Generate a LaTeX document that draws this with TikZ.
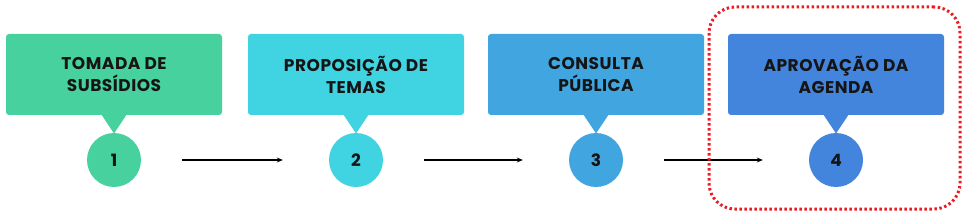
\documentclass[tikz,border=0pt]{standalone}
\usepackage{fontspec}
\setmainfont{Poppins}[LetterSpace=3]
\usetikzlibrary{arrows.meta}
\definecolor{cA}{HTML}{46D19F}
\definecolor{cB}{HTML}{40D3E2}
\definecolor{cC}{HTML}{41A6E0}
\definecolor{cD}{HTML}{4385DD}
\definecolor{txt}{HTML}{151515}
\definecolor{redd}{HTML}{EC1C24}
\tikzset{
  stepbox/.style={rectangle, rounded corners=3pt, minimum width=216pt, minimum height=81pt, inner sep=0pt, align=center, text=txt, font=\fontsize{17}{22}\selectfont\bfseries},
  stepnum/.style={circle, minimum size=54pt, inner sep=0pt, text=txt, font=\fontsize{17}{20}\selectfont\bfseries},
  arr/.style={line width=1.2pt, -{Stealth[length=6pt,width=5pt]}, shorten <=41pt, shorten >=46pt},
  hl/.style={draw=redd, line width=3pt, dash pattern=on 2.4pt off 2.6pt, rounded corners=26pt}
}
\begin{document}
\begin{tikzpicture}[x=1pt,y=-1pt]
\useasboundingbox (0,0) rectangle (966,219);
\fill[white] (0,0) rectangle (966,219);
\foreach \i/\x/\c/\t in {1/114/cA/{TOMADA DE\\SUBSÍDIOS},2/356/cB/{PROPOSIÇÃO DE\\TEMAS},3/596/cC/{CONSULTA\\PÚBLICA},4/836/cD/{APROVAÇÃO DA\\AGENDA}}{
  \node[stepbox, fill=\c] (b\i) at (\x,74.5) {\t};
  \fill[\c] (\x-13,114) -- (\x+13,114) -- (\x,133.5) -- cycle;
  \node[stepnum, fill=\c] (c\i) at (\x,160) {\i};
}
\draw[arr] (c1) -- (c2);
\draw[arr] (c2) -- (c3);
\draw[arr] (c3) -- (c4);
\node[hl, minimum width=251pt, minimum height=202pt, inner sep=0pt] (hlbox) at (834.5,108) {};
\end{tikzpicture}
\end{document}
